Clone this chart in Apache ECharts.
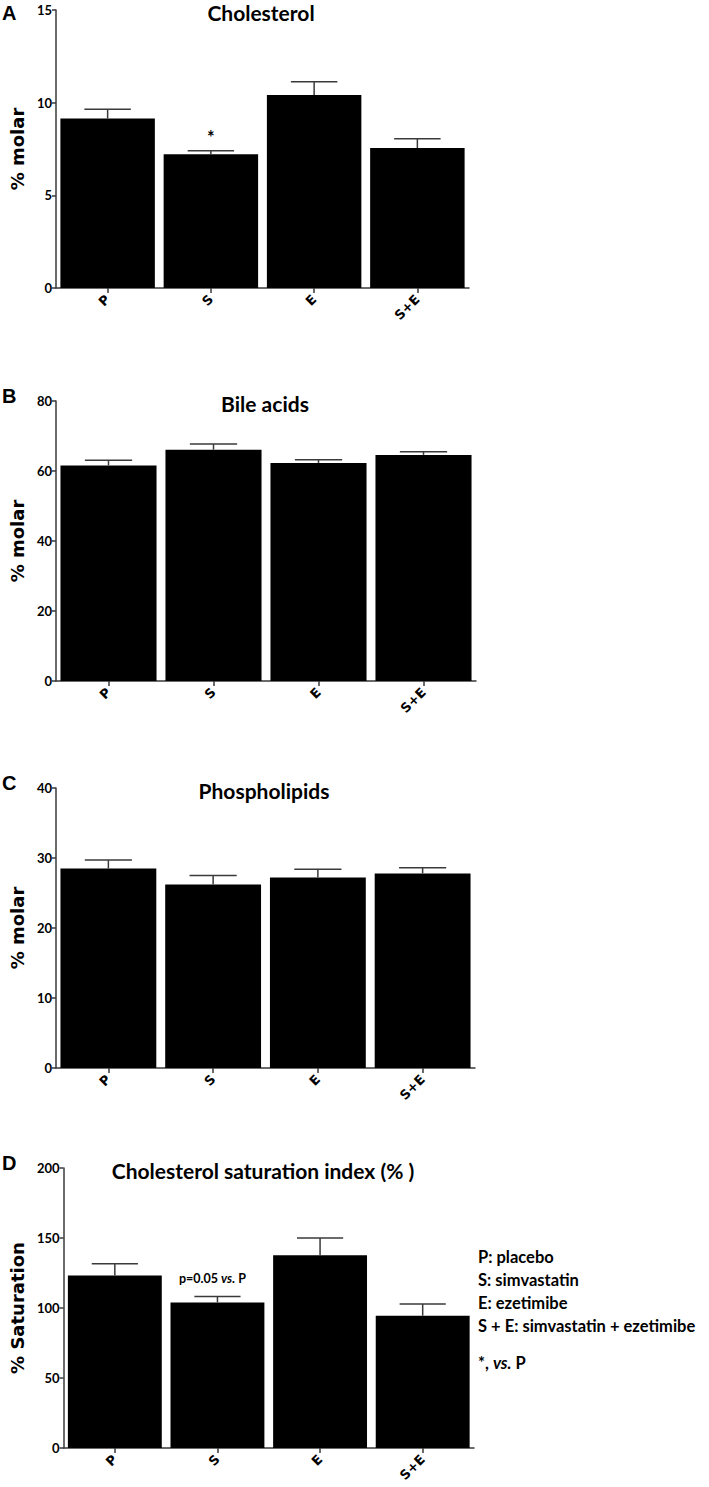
<!DOCTYPE html>
<html>
<head>
<meta charset="utf-8">
<script src="https://cdn.jsdelivr.net/npm/echarts@6/dist/echarts.min.js"></script>
<style>
html,body{margin:0;padding:0;background:#fff;}
#chart{width:709px;height:1487px;}
</style>
</head>
<body>
<div id="chart"></div>
<script>
// ---- data ----
const categories = ['P', 'S', 'E', 'S+E'];

const cholesterolMean = [9.15, 7.22, 10.41, 7.55];
const cholesterolErrTop = [9.64, 7.40, 11.13, 8.05];

const bileAcidsMean = [61.6, 66.1, 62.3, 64.6];
const bileAcidsErrTop = [63.1, 67.7, 63.2, 65.5];

const phospholipidsMean = [28.5, 26.2, 27.2, 27.8];
const phospholipidsErrTop = [29.7, 27.5, 28.4, 28.6];

const csiMean = [123.3, 104.0, 137.6, 94.5];
const csiErrTop = [131.6, 108.3, 150.0, 102.9];

const yTicksA = [0, 5, 10, 15];
const yTicksB = [0, 20, 40, 60, 80];
const yTicksC = [0, 10, 20, 30, 40];
const yTicksD = [0, 50, 100, 150, 200];

const titles = ['Cholesterol', 'Bile acids', 'Phospholipids', 'Cholesterol saturation index (% )'];
const panelLetters = ['A', 'B', 'C', 'D'];
const yNames = ['% molar', '% molar', '% molar', '% Saturation'];

const legendLines = ['P: placebo', 'S: simvastatin', 'E: ezetimibe', 'S + E: simvastatin + ezetimibe'];

// annotations: [categoryIndex, value]
const starAnnotation = [[1, 8.16]];
const pAnnotation = [[1, 121]];

// ---- layout ----
const grids = [
  {left: 53, top: 10, width: 416, height: 278},
  {left: 54, top: 401, width: 422, height: 280},
  {left: 53, top: 788, width: 422, height: 280},
  {left: 52, top: 1168, width: 422, height: 280}
];
const means = [cholesterolMean, bileAcidsMean, phospholipidsMean, csiMean];
const errs = [cholesterolErrTop, bileAcidsErrTop, phospholipidsErrTop, csiErrTop];
const ticks = [yTicksA, yTicksB, yTicksC, yTicksD];

const axisColor = '#3a3a3a';
const titleFont = 'Lato, "Noto Sans", sans-serif';

function errRender(params, api) {
  const i = api.value(0), m = api.value(1), t = api.value(2);
  const p0 = api.coord([i, m]);
  const p1 = api.coord([i, t]);
  const bw = api.size([1, 0])[0];
  const hw = bw * 0.225;
  const st = {stroke: axisColor, lineWidth: 1.5};
  return {type: 'group', children: [
    {type: 'line', shape: {x1: p0[0], y1: p0[1], x2: p1[0], y2: p1[1]}, style: st},
    {type: 'line', shape: {x1: p1[0] - hw, y1: p1[1], x2: p1[0] + hw, y2: p1[1]}, style: st}
  ]};
}

const xAxes = [], yAxes = [], series = [], graphics = [];
grids.forEach((g, k) => {
  const tk = ticks[k];
  xAxes.push({
    type: 'category', gridIndex: k, data: categories,
    axisLine: {show: true, lineStyle: {color: axisColor, width: 1.5}},
    axisTick: {show: true, alignWithLabel: true, length: 5, lineStyle: {color: axisColor, width: 1.5}},
    axisLabel: {rotate: 45, margin: 9, color: '#000', fontWeight: 'bold', fontSize: 13,
      fontFamily: '"DejaVu Sans", sans-serif'},
    splitLine: {show: false}
  });
  yAxes.push({
    type: 'value', gridIndex: k, min: tk[0], max: tk[tk.length - 1], interval: tk[1] - tk[0],
    name: yNames[k], nameLocation: 'middle', nameGap: 30,
    nameTextStyle: {fontSize: 18, fontWeight: 'bold', color: '#000', fontFamily: '"DejaVu Sans", sans-serif'},
    axisLine: {show: true, lineStyle: {color: axisColor, width: 1.5}},
    axisTick: {show: true, length: 4, lineStyle: {color: axisColor, width: 1.5}},
    axisLabel: {color: '#000', fontWeight: 'bold', fontSize: 13, margin: 4, fontFamily: titleFont},
    splitLine: {show: false}
  });
  series.push({
    type: 'bar', xAxisIndex: k, yAxisIndex: k, data: means[k],
    barCategoryGap: '8.5%', itemStyle: {color: '#000'}, silent: true, animation: false
  });
  series.push({
    type: 'custom', xAxisIndex: k, yAxisIndex: k, renderItem: errRender,
    data: means[k].map((m, i) => [i, m, errs[k][i]]), encode: {x: 0, y: [1, 2]},
    silent: true, animation: false, z: 3
  });
  graphics.push({
    type: 'text', x: g.left + g.width / 2, y: g.top + 2,
    style: {text: titles[k], font: 'bold 21px ' + titleFont, fill: '#000',
      align: 'center', verticalAlign: 'middle', textAlign: 'center', textVerticalAlign: 'middle'}
  });
  graphics.push({
    type: 'text', x: 2, y: g.top + (k === 0 ? 3 : -5),
    style: {text: panelLetters[k], font: 'bold 20px "Liberation Sans", Arial, sans-serif', fill: '#000',
      align: 'left', verticalAlign: 'middle', textAlign: 'left', textVerticalAlign: 'middle'}
  });
});

// star annotation (panel A)
series.push({
  type: 'custom', xAxisIndex: 0, yAxisIndex: 0, data: starAnnotation, encode: {x: 0, y: 1},
  silent: true, animation: false, z: 4,
  renderItem: function (params, api) {
    const p = api.coord([api.value(0), api.value(1)]);
    return {type: 'text', x: p[0], y: p[1],
      style: {text: '*', font: 'bold 18px ' + titleFont, fill: '#000', align: 'center', verticalAlign: 'middle'}};
  }
});
// p=0.05 annotation (panel D)
series.push({
  type: 'custom', xAxisIndex: 3, yAxisIndex: 3, data: pAnnotation, encode: {x: 0, y: 1},
  silent: true, animation: false, z: 4,
  renderItem: function (params, api) {
    const p = api.coord([api.value(0), api.value(1)]);
    return {type: 'text', x: p[0] - 5, y: p[1],
      style: {text: '{n|p=0.05 }{i|vs.}{n| P}', align: 'center', verticalAlign: 'middle',
        rich: {
          n: {fontFamily: titleFont, fontWeight: 'bold', fontSize: 12.5, fill: '#000', color: '#000'},
          i: {fontFamily: titleFont, fontWeight: 'bold', fontStyle: 'italic', fontSize: 12.5, fill: '#000', color: '#000'}
        }}};
  }
});

// legend block (panel D)
const legendY = [1257, 1280, 1303, 1326];
legendLines.forEach((t, i) => {
  graphics.push({
    type: 'text', x: 478, y: legendY[i],
    style: {text: t, font: 'bold 16.5px ' + titleFont, fill: '#000', align: 'left', verticalAlign: 'middle',
      textAlign: 'left', textVerticalAlign: 'middle'}
  });
});
graphics.push({
  type: 'text', x: 478, y: 1363,
  style: {text: '{b|*, }{i|vs.}{b| P}', align: 'left', verticalAlign: 'middle',
    textAlign: 'left', textVerticalAlign: 'middle',
    rich: {
      b: {fontFamily: titleFont, fontWeight: 'bold', fontSize: 16.5, fill: '#000', color: '#000'},
      i: {fontFamily: titleFont, fontWeight: 'bold', fontStyle: 'italic', fontSize: 16.5, fill: '#000', color: '#000'}
    }}
});

const chart = echarts.init(document.getElementById('chart'), null, {renderer: 'svg', width: 709, height: 1487});
chart.setOption({
  backgroundColor: '#fff',
  animation: false,
  grid: grids.map(g => Object.assign({containLabel: false}, g)),
  xAxis: xAxes,
  yAxis: yAxes,
  series: series,
  graphic: graphics
});
</script>
</body>
</html>
